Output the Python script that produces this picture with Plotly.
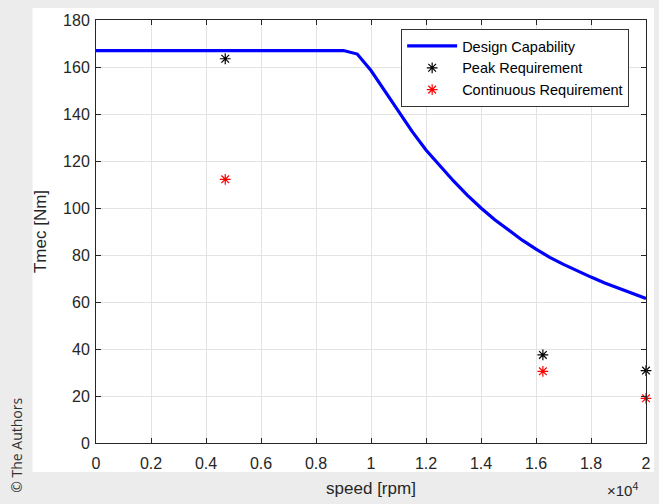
import plotly.graph_objects as go

# Design capability curve (speed in rpm, torque in Nm)
cap_speed = [0, 9000, 9500, 10000, 10500, 11000, 11500, 12000, 12500, 13000,
             13500, 14000, 14500, 15000, 15500, 16000, 16500, 17000, 17500,
             18000, 18500, 19000, 19500, 20000]
cap_torque = [167, 167, 165.5, 158.5, 149.8, 141.2, 132.5, 124.7, 118, 111.5,
              105.5, 100, 95, 90.5, 86.3, 82.5, 79, 76, 73.2,
              70.6, 68.1, 65.8, 63.6, 61.5]

# Requirement points
req_speed = [4700, 16250, 20000]
peak_torque = [163.5, 37.5, 30.8]
cont_torque = [112.2, 30.5, 19]

x_ticks = [0, 2000, 4000, 6000, 8000, 10000, 12000, 14000, 16000, 18000, 20000]
x_tick_text = ["0", "0.2", "0.4", "0.6", "0.8", "1", "1.2", "1.4", "1.6", "1.8", "2"]
y_ticks = [0, 20, 40, 60, 80, 100, 120, 140, 160, 180]

W, H = 659, 504
L, R, T, B = 96, 8, 20, 61
pw = W - L - R
ph = H - T - B

font_family = "Liberation Sans, Arial, Helvetica, sans-serif"
axis_col = "#262626"

fig = go.Figure()
fig.add_trace(go.Scatter(
    x=cap_speed, y=cap_torque, mode="lines", name="Design Capability",
    line=dict(color="#0000ff", width=3.2),
))
fig.add_trace(go.Scatter(
    x=req_speed, y=peak_torque, mode="markers", name="Peak Requirement",
    marker=dict(symbol="asterisk-open", size=9, color="black",
                line=dict(color="black", width=1.2)),
    cliponaxis=False,
))
fig.add_trace(go.Scatter(
    x=req_speed, y=cont_torque, mode="markers", name="Continuous Requirement",
    marker=dict(symbol="asterisk-open", size=9, color="red",
                line=dict(color="red", width=1.2)),
    cliponaxis=False,
))

def px2paper_x(px):
    return (px - L) / pw

def px2paper_y(py):
    return (H - B - py) / ph

# white figure panel over the light gray page
fig.add_shape(type="rect", xref="paper", yref="paper", layer="below",
              x0=px2paper_x(32), x1=px2paper_x(659),
              y0=px2paper_y(472), y1=px2paper_y(8),
              fillcolor="white", line=dict(width=0))

fig.add_annotation(xref="paper", yref="paper", x=px2paper_x(627), y=px2paper_y(489),
                   xanchor="center", yanchor="middle",
                   text="×10<sup>4</sup>", showarrow=False,
                   font=dict(family=font_family, size=15, color=axis_col))
fig.add_annotation(xref="paper", yref="paper", x=px2paper_x(15), y=px2paper_y(445),
                   xanchor="center", yanchor="middle",
                   text="© The Authors", showarrow=False, textangle=-90,
                   font=dict(family="Open Sans, Noto Sans, sans-serif", size=14, color="#333333"))

axis_common = dict(
    showline=True, linecolor=axis_col, linewidth=1, mirror="ticks",
    ticks="inside", ticklen=5, tickcolor=axis_col,
    showgrid=True, gridcolor="#e3e3e3", gridwidth=1, zeroline=False,
    tickfont=dict(family=font_family, size=16, color=axis_col),
)

fig.update_layout(
    width=W, height=H,
    margin=dict(l=L, r=R, t=T, b=B),
    paper_bgcolor="#ececec",
    plot_bgcolor="white",
    font=dict(family=font_family, color=axis_col),
    xaxis=dict(range=[0, 20000], tickvals=x_ticks, ticktext=x_tick_text,
               ticklabelstandoff=6,
               title=dict(text="speed [rpm]", font=dict(size=17), standoff=10),
               **axis_common),
    yaxis=dict(range=[0, 180], tickvals=y_ticks, ticklabelstandoff=2,
               title=dict(text="Tmec [Nm]", font=dict(size=17), standoff=12),
               **axis_common),
    legend=dict(x=px2paper_x(634), y=px2paper_y(29), xanchor="right", yanchor="top",
                bgcolor="white", bordercolor="#333333", borderwidth=1,
                font=dict(family=font_family, size=14.5, color="black"),
                tracegroupgap=0, itemwidth=50),
    showlegend=True,
)

fig.write_html("out.html", config={"displayModeBar": False},
               post_script="document.body.style.margin='0';document.body.style.overflow='hidden';")
